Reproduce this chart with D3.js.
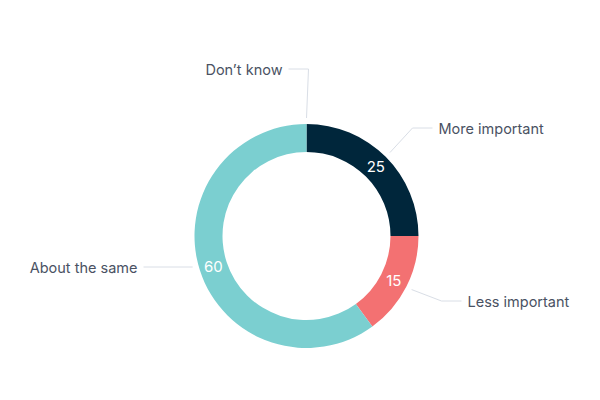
<!DOCTYPE html>
<html><head><meta charset="utf-8">
<script src="https://cdn.jsdelivr.net/npm/d3@7"></script>
<style>body{margin:0;background:#fff}svg{display:block}</style>
</head><body>
<svg id="c" width="600" height="400"></svg>
<script>
const categories = ["More important", "Less important", "About the same", "Don\u2019t know"];
const values = [25, 15, 60, 0];
const colors = ["#00263b", "#f37172", "#7bcfd0", "#cccccc"];

const W = 600, H = 400, cx = 306.5, cy = 236, outerR = 112, innerR = 84;
// label anchor offsets relative to centre (layout only)
const labelLayout = {
  "More important": {dx: 126, dy: -108, side: 1, straight: false},
  "Less important": {dx: 155, dy: 65, side: 1, straight: false},
  "About the same": {dx: -163, dy: 31, side: -1, straight: true},
  "Don\u2019t know": {dx: -18, dy: -167, side: -1, straight: false}
};

const svg = d3.select("#c");
const g = svg.append("g").attr("transform", `translate(${cx},${cy})`);
const data = categories.map((c, i) => ({cat: c, value: values[i], color: colors[i]}));
const pie = d3.pie().value(d => d.value).sort(null);
const arcs = pie(data);
const arc = d3.arc().innerRadius(innerR).outerRadius(outerR);
const mid = d3.arc().innerRadius(98).outerRadius(98);

g.selectAll("path.slice").data(arcs.filter(a => a.data.value > 0)).join("path")
  .attr("class", "slice").attr("d", arc).attr("fill", d => d.data.color);

g.selectAll("text.val").data(arcs.filter(a => a.data.value > 0)).join("text")
  .attr("class", "val")
  .attr("transform", d => `translate(${mid.centroid(d)})`)
  .attr("text-anchor", "middle").attr("dominant-baseline", "central")
  .attr("fill", "#fff").attr("font-family", "Inter, sans-serif").attr("font-size", 15)
  .text(d => d.data.value);

arcs.forEach(a => {
  const L = labelLayout[a.data.cat];
  const ang = (a.startAngle + a.endAngle) / 2;
  const r0 = outerR + 6;
  const ex = L.dx, ey = L.dy;
  let pts;
  if (L.straight) {
    const px = L.side * Math.sqrt(r0 * r0 - ey * ey);
    pts = [[ex, ey], [px, ey]];
  } else {
    pts = [[ex, ey], [ex - L.side * 20, ey], d3.pointRadial(ang, r0)];
  }
  g.append("path")
    .attr("d", d3.line()(pts))
    .attr("fill", "none").attr("stroke", "#d9dee6").attr("stroke-width", 1);
  g.append("text")
    .attr("x", ex + L.side * 6).attr("y", ey)
    .attr("text-anchor", L.side > 0 ? "start" : "end")
    .attr("dominant-baseline", "central")
    .attr("fill", "#4a5263").attr("font-family", "Inter, sans-serif").attr("font-size", 14.5)
    .text(a.data.cat);
});
</script>
</body></html>
